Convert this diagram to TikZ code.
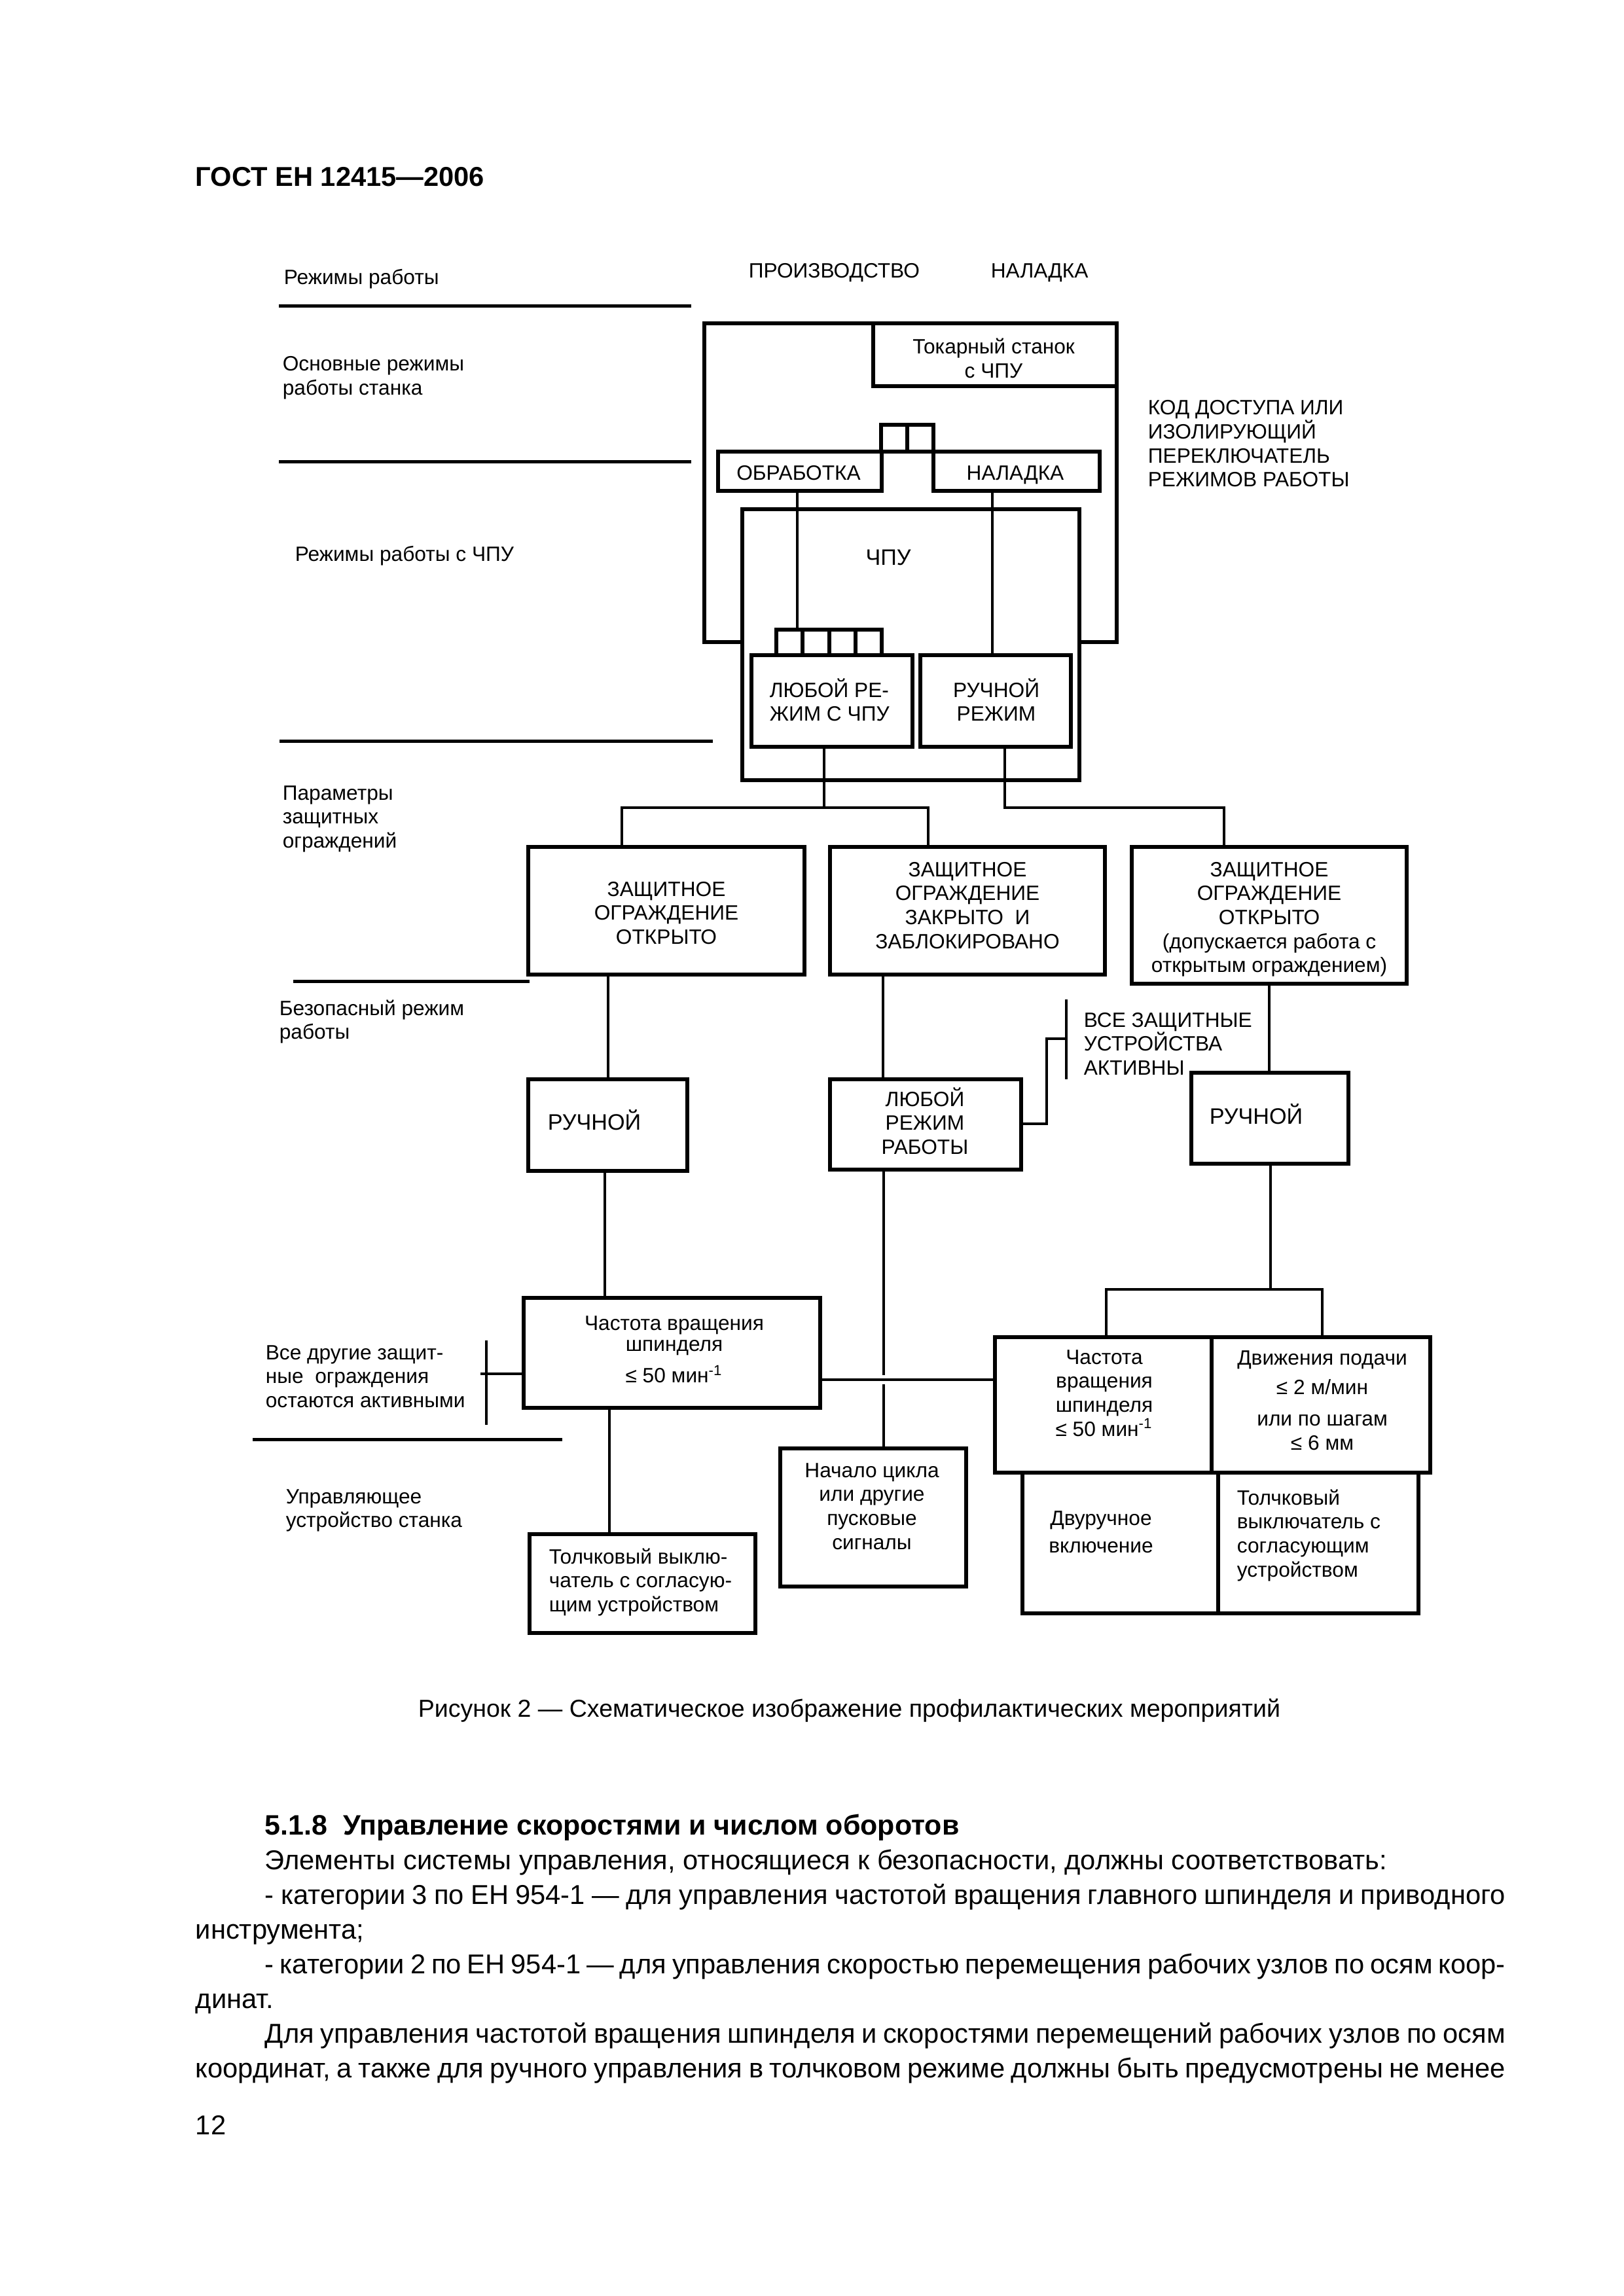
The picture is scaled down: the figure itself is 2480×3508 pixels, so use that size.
\documentclass[tikz,border=0pt]{standalone}
\usepackage{fontspec}
\setmainfont{Liberation Sans}
\usetikzlibrary{fit}
\newcommand\mlc[1]{\vtop{\lineskiplimit=-\maxdimen\halign{\hfil##\hfil\cr#1\crcr}}}
\newcommand\mll[1]{\vtop{\lineskiplimit=-\maxdimen\halign{##\hfil\cr#1\crcr}}}
\newcommand\dgf{\fontsize{7.6}{8.8}\selectfont}
\newcommand\dgb{\fontsize{8.2}{8.8}\selectfont}
\newcommand\bdf{\fontsize{10}{12.7}\selectfont}
\begin{document}
\begin{tikzpicture}[x=0.24pt,y=-0.24pt,
  bx/.style={draw,line width=1.35pt,inner sep=0pt},
  cn/.style={line width=1.15pt},
  thin/.style={line width=0.9pt},
  sepl/.style={line width=1.2pt},
  tx/.style={inner sep=0pt,font=\dgf},
  txb/.style={inner sep=0pt,font=\dgb},
  bt/.style={inner sep=0pt,font=\bdf}]
\fill[white] (0,0) rectangle (2480,3508);
\useasboundingbox (0,0) rectangle (2480,3508);

% ---------- boxes ----------
\node[bx, fit={(1076,494) (1706,981)}] (outer) {};
\node[bx, fit={(1334,494) (1706,590)}] (lathe) {};
\node[bx, fit={(1346,649) (1386,690)}] (sA1) {};
\node[bx, fit={(1386,649) (1426,690)}] (sA2) {};
\node[bx, fit={(1097,690) (1347,750)}] (obr) {};
\node[bx, fit={(1426,690) (1680,750)}] (nal) {};
\node[bx, fill=white, fit={(1134,778) (1649,1192)}] (cnc) {};
\node[bx, fit={(1186,962) (1226,1001)}] (sB1) {};
\node[bx, fit={(1226,962) (1267,1001)}] (sB2) {};
\node[bx, fit={(1267,962) (1307,1001)}] (sB3) {};
\node[bx, fit={(1307,962) (1347,1001)}] (sB4) {};
\node[bx, fit={(1148,1001) (1394,1141)}] (anycnc) {};
\node[bx, fit={(1406,1001) (1636,1141)}] (manmode) {};
\node[bx, fit={(807,1294) (1229,1489)}] (g1) {};
\node[bx, fit={(1268,1294) (1688,1489)}] (g2) {};
\node[bx, fit={(1729,1294) (2149,1503)}] (g3) {};
\node[bx, fit={(807,1649) (1050,1789)}] (r1) {};
\node[bx, fit={(1268,1649) (1560,1787)}] (any2) {};
\node[bx, fit={(1820,1639) (2060,1778)}] (r3) {};
\node[bx, fit={(800,1983) (1253,2151)}] (f1) {};
\node[bx, fit={(809,2344) (1154,2495)}] (jog1) {};
\node[bx, fit={(1192,2213) (1476,2424)}] (start) {};
\node[bx, fit={(1520,2043) (1851,2250)}] (f2) {};
\node[bx, fit={(1851,2043) (2185,2250)}] (feed) {};
\node[bx, fit={(1562,2250) (1861,2465)}] (two) {};
\node[bx, fit={(1861,2250) (2167,2465)}] (jog2) {};

% ---------- connectors ----------
\draw[cn] (obr.south -| 1218,0) -- (sB1.north -| 1218,0);
\draw[cn] (nal.south -| 1516,0) -- (manmode.north -| 1516,0);
\coordinate (busA) at (1259,1234);
\draw[cn] (anycnc.south -| busA) -- (busA);
\draw[cn] (g1.north -| 950,0) |- (busA) -| (g2.north -| 1418,0);
\coordinate (busB) at (1535,1234);
\draw[cn] (manmode.south -| busB) -- (busB) -| (g3.north -| 1870,0);

\draw[cn] (g1.south -| 929,0) -- (r1.north -| 929,0);
\draw[cn] (r1.south -| 924,0) -- (f1.north -| 924,0);
\draw[cn] (f1.south -| 931,0) -- (jog1.north -| 931,0);
\coordinate (tk) at (743,2099);
\draw[thin] (f1.west |- tk) -- (734,2099);
\draw[thin] (743,2048) -- (743,2177);

\draw[cn] (g2.south -| 1349,0) -- (any2.north -| 1349,0);
\draw[cn] (any2.south -| 1350,0) -- (1350,2101);
\draw[cn] (1350,2115) -- (start.north -| 1350,0);
\draw[thin] (f1.east |- 0,2108) -- (f2.west |- 0,2108);
\draw[cn] (any2.east |- 0,1717) -| (1599,1587) -- (1629,1587);
\draw[cn] (1629,1527) -- (1629,1649);

\draw[cn] (g3.south -| 1939,0) -- (r3.north -| 1939,0);
\coordinate (busC) at (1941,1970);
\draw[cn] (r3.south -| busC) -- (busC);
\draw[cn] (f2.north -| 1690,0) |- (busC) -| (feed.north -| 2020,0);

% ---------- row separators ----------
\draw[sepl] (426,468) -- (1056,468);
\draw[sepl] (426,706) -- (1056,706);
\draw[sepl] (427,1132) -- (1089,1132);
\draw[sepl] (448,1499) -- (809,1499);
\draw[sepl] (386,2199) -- (859,2199);

% ---------- left labels and header ----------
\node[tx, anchor=base west] (hdrA) at (433,435) {Режимы работы};
\node[tx, anchor=base west] (hdrB) at (1143,425) {ПРОИЗВОДСТВО};
\node[tx, anchor=base west] (hdrC) at (1513,425) {НАЛАДКА};
\node[tx, anchor=base west] (lbA) at (431,567) {\mll{Основные режимы\cr работы станка}};
\node[tx, anchor=base west] (lbB) at (450,858) {Режимы работы с ЧПУ};
\node[tx, anchor=base west] (lbC) at (431,1222) {\mll{Параметры\cr защитных\cr ограждений}};
\node[tx, anchor=base west] (lbD) at (426,1551) {\mll{Безопасный режим\cr работы}};
\node[tx, anchor=base west] (lbE) at (405,2077) {\mll{Все другие защит-\cr ные\ \ ограждения\cr остаются активными}};
\node[tx, anchor=base west] (lbF) at (436,2297) {\mll{Управляющее\cr устройство станка}};
\node[tx, anchor=base west] (code) at (1753,634) {\mll{КОД ДОСТУПА ИЛИ\cr ИЗОЛИРУЮЩИЙ\cr ПЕРЕКЛЮЧАТЕЛЬ\cr РЕЖИМОВ РАБОТЫ}};

% ---------- box texts ----------
\node[tx, anchor=base] (latheT) at (1518,541) {\mlc{Токарный станок\cr с ЧПУ}};
\node[tx, anchor=base] (obrT) at (1220,734) {ОБРАБОТКА};
\node[tx, anchor=base] (nalT) at (1551,734) {НАЛАДКА};
\node[txb, anchor=base] (cncT) at (1357,864) {ЧПУ};
\node[tx, anchor=base west] (anycncT) at (1175,1065) {\mll{ЛЮБОЙ РЕ-\cr ЖИМ С ЧПУ}};
\node[tx, anchor=base] (manmodeT) at (1522,1065) {\mlc{РУЧНОЙ\cr РЕЖИМ}};
\node[tx, anchor=base] (g1T) at (1018,1369) {\mlc{ЗАЩИТНОЕ\cr ОГРАЖДЕНИЕ\cr ОТКРЫТО}};
\node[tx, anchor=base] (g2T) at (1478,1339) {\mlc{ЗАЩИТНОЕ\cr ОГРАЖДЕНИЕ\cr ЗАКРЫТО\ \ И\cr ЗАБЛОКИРОВАНО}};
\node[tx, anchor=base] (g3T) at (1939,1339) {\mlc{ЗАЩИТНОЕ\cr ОГРАЖДЕНИЕ\cr ОТКРЫТО\cr (допускается работа с\cr открытым ограждением)}};
\node[txb, anchor=base west] (r1T) at (836,1726) {РУЧНОЙ};
\node[tx, anchor=base] (any2T) at (1413,1690) {\mlc{ЛЮБОЙ\cr РЕЖИМ\cr РАБОТЫ}};
\node[tx, anchor=base west] (allT) at (1655,1569) {\mll{ВСЕ ЗАЩИТНЫЕ\cr УСТРОЙСТВА\cr АКТИВНЫ}};
\node[txb, anchor=base west] (r3T) at (1847,1717) {РУЧНОЙ};
\node[tx, anchor=base] (f1T) at (1030,2032) {\mlc{Частота вращения\cr\noalign{\vskip-1pt} шпинделя\cr\noalign{\vskip2.8pt} ≤ 50 мин\textsuperscript{-1}}};
\node[tx, anchor=base west] (jog1T) at (838,2389) {\mll{Толчковый выклю-\cr чатель с согласую-\cr щим устройством}};
\node[tx, anchor=base] (startT) at (1332,2257) {\mlc{Начало цикла\cr или другие\cr пусковые\cr сигналы}};
\node[tx, anchor=base] (f2T) at (1687,2084) {\mlc{Частота\cr вращения\cr шпинделя\cr ≤ 50 мин\textsuperscript{-1}}};
\node[tx, anchor=base] (feedT) at (2020,2085) {\mlc{Движения подачи\cr\noalign{\vskip2.2pt} ≤ 2 м/мин\cr\noalign{\vskip2.7pt} или по шагам\cr ≤ 6 мм}};
\node[tx, anchor=base] (twoT) at (1682,2330) {\mlc{Двуручное\cr\noalign{\vskip1.3pt} включение}};
\node[tx, anchor=base west] (jog2T) at (1889,2299) {\mll{Толчковый\cr выключатель с\cr согласующим\cr устройством}};

% ---------- page text ----------
\node[inner sep=0pt, anchor=base west, font=\fontsize{10}{12}\selectfont\bfseries] (title) at (298,285) {ГОСТ ЕН 12415—2006};
\node[inner sep=0pt, anchor=base west, font=\fontsize{9}{11}\selectfont] (cap) at (638,2623) {Рисунок 2 — Схематическое изображение профилактических мероприятий};
\node[inner sep=0pt, anchor=base west, font=\fontsize{10.3}{12.7}\selectfont\bfseries] (head) at (404,2803) {5.1.8\ \ Управление скоростями и числом оборотов};
\node[bt, anchor=base west] (p1) at (404,2856) {Элементы системы управления, относящиеся к безопасности, должны соответствовать:};
\node[bt, anchor=base west] (p2) at (404,2909) {\makebox[454.8pt][s]{- категории 3 по ЕН 954-1 — для управления частотой вращения главного шпинделя и приводного}};
\node[bt, anchor=base west] (p3) at (298,2962) {инструмента;};
\node[bt, anchor=base west] (p4) at (404,3015) {\makebox[454.8pt][s]{- категории 2 по ЕН 954-1 — для управления скоростью перемещения рабочих узлов по осям коор-}};
\node[bt, anchor=base west] (p5) at (298,3068) {динат.};
\node[bt, anchor=base west] (p6) at (404,3121) {\makebox[454.8pt][s]{Для управления частотой вращения шпинделя и скоростями перемещений рабочих узлов по осям}};
\node[bt, anchor=base west] (p7) at (298,3174) {\makebox[480.2pt][s]{координат, а также для ручного управления в толчковом режиме должны быть предусмотрены не менее}};
\node[bt, anchor=base west] (pg) at (298,3261) {12};
\end{tikzpicture}
\end{document}
